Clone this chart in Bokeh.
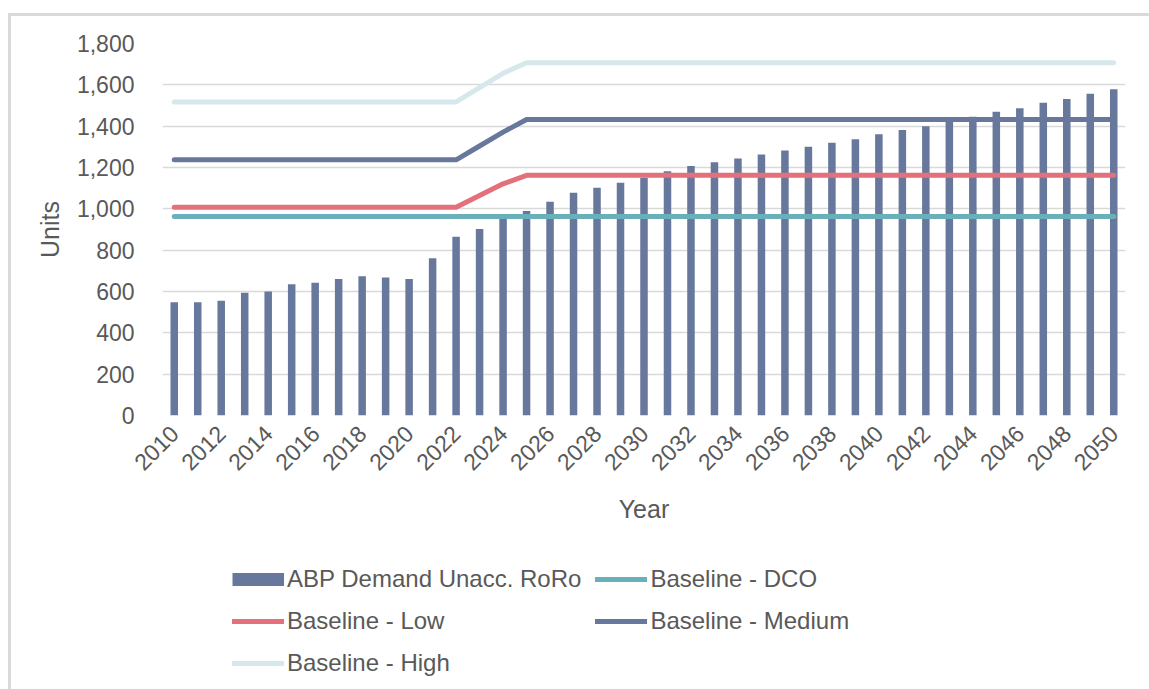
import math

from bokeh.embed import file_html
from bokeh.layouts import column
from bokeh.models import (ColumnDataSource, FixedTicker, InlineStyleSheet, Legend,
                          LegendItem, NumeralTickFormatter, Range1d)
from bokeh.plotting import figure
from bokeh.resources import INLINE

# ---- data -------------------------------------------------------------------
years = list(range(2010, 2051))

demand = [548, 548, 555, 594, 600, 635, 642, 661, 674, 668,
          661, 761, 865, 903, 955, 989, 1034, 1078, 1102, 1126,
          1150, 1182, 1207, 1226, 1244, 1263, 1282, 1300, 1320, 1337,
          1361, 1381, 1400, 1423, 1446, 1470, 1487, 1513, 1531, 1557, 1579]

baseline_dco = [963] * 41
baseline_low = [1008] * 13 + [1065, 1121] + [1162] * 26
baseline_medium = [1237] * 13 + [1304, 1371] + [1432] * 26
baseline_high = [1517] * 13 + [1586, 1656] + [1707] * 26

y_ticks = [0, 200, 400, 600, 800, 1000, 1200, 1400, 1600, 1800]
x_ticks = list(range(2010, 2051, 2))

series_names = ["ABP Demand Unacc. RoRo", "Baseline - DCO", "Baseline - Low",
                "Baseline - Medium", "Baseline - High"]

# ---- styling ----------------------------------------------------------------
FONT = "Liberation Sans"
TEXT = "#595959"
GRID = "#d9d9d9"
BAR = "#68789c"
DCO = "#6ab0ba"
LOW = "#e4707c"
MED = "#68789c"
HIGH = "#d6e8ec"

src = ColumnDataSource(dict(year=years, demand=demand, dco=baseline_dco,
                            low=baseline_low, medium=baseline_medium,
                            high=baseline_high))

# ---- main chart -------------------------------------------------------------
p = figure(width=1149, height=530, output_backend="svg", toolbar_location=None,
           x_range=Range1d(2009.5, 2050.5), y_range=Range1d(0, 1800),
           min_border_left=162, min_border_right=24,
           min_border_top=43, min_border_bottom=115)
p.outline_line_color = None
p.background_fill_color = "white"
p.border_fill_color = "white"

# grid
p.xgrid.visible = False
p.ygrid.ticker = FixedTicker(ticks=y_ticks)
p.ygrid.grid_line_color = GRID
p.ygrid.grid_line_width = 1.5

# y axis
p.yaxis.ticker = FixedTicker(ticks=y_ticks)
p.yaxis.formatter = NumeralTickFormatter(format="0,0")
p.yaxis.axis_label = "Units"
# x axis
p.xaxis.ticker = FixedTicker(ticks=x_ticks)
p.xaxis.major_label_orientation = math.pi / 4
p.xaxis.axis_label = "Year"

for ax in (p.xaxis, p.yaxis):
    ax.axis_line_color = None
    ax.major_tick_line_color = None
    ax.minor_tick_line_color = None
    ax.major_label_text_font = FONT
    ax.major_label_text_font_size = "23px"
    ax.major_label_text_color = TEXT
    ax.axis_label_text_font = FONT
    ax.axis_label_text_font_size = "25px"
    ax.axis_label_text_font_style = "normal"
    ax.axis_label_text_color = TEXT

p.yaxis.major_label_standoff = 22
p.yaxis.axis_label_standoff = 10
p.xaxis.major_label_standoff = 8
p.xaxis.axis_label_standoff = 14

# bars
p.vbar(x="year", top="demand", width=0.32, source=src,
       fill_color=BAR, line_color=None)

# scenario lines
line_kw = dict(source=src, line_width=5, line_cap="round", line_join="round")
p.line("year", "dco", line_color=DCO, **line_kw)
p.line("year", "low", line_color=LOW, **line_kw)
p.line("year", "medium", line_color=MED, **line_kw)
p.line("year", "high", line_color=HIGH, **line_kw)

# ---- legend strip below the chart ------------------------------------------
# (its frame is aligned with the chart frame above, so x offsets start at 162px)
lg = figure(width=1149, height=159, output_backend="svg", toolbar_location=None,
            x_range=Range1d(0, 1), y_range=Range1d(0, 1),
            x_axis_type=None, y_axis_type=None,
            min_border_left=0, min_border_right=0,
            min_border_top=0, min_border_bottom=0)
lg.outline_line_color = None
lg.grid.visible = False
lg.background_fill_color = "white"
lg.border_fill_color = "white"

nan = float("nan")
sw_kw = dict(x=[nan], y=[nan])
sw_bar = lg.line(line_color=BAR, line_width=13, line_cap="butt", **sw_kw)
sw_dco = lg.line(line_color=DCO, line_width=5, line_cap="round", **sw_kw)
sw_low = lg.line(line_color=LOW, line_width=5, line_cap="round", **sw_kw)
sw_med = lg.line(line_color=MED, line_width=5, line_cap="round", **sw_kw)
sw_high = lg.line(line_color=HIGH, line_width=5, line_cap="round", **sw_kw)

legend = Legend(
    items=[LegendItem(label=series_names[0], renderers=[sw_bar]),
           LegendItem(label=series_names[1], renderers=[sw_dco]),
           LegendItem(label=series_names[2], renderers=[sw_low]),
           LegendItem(label=series_names[3], renderers=[sw_med]),
           LegendItem(label=series_names[4], renderers=[sw_high])],
    orientation="horizontal", ncols=2,
    location=(70, 12),
    glyph_width=52, glyph_height=20, label_height=20, label_standoff=3,
    spacing=14, padding=0, margin=0,
    border_line_color=None, background_fill_alpha=0,
    label_text_font=FONT, label_text_font_size="24px", label_text_color=TEXT,
)
lg.add_layout(legend, "center")

layout = column(p, lg, spacing=0)

# thin grey frame around the whole chart area (open to the right and bottom)
layout.stylesheets = [InlineStyleSheet(css="""
:host { position: relative; }
:host::after {
  content: "";
  position: absolute;
  left: 8px; top: 13px; right: 0; bottom: 0;
  border-left: 3px solid #d9d9d9;
  border-top: 3px solid #d9d9d9;
  pointer-events: none;
  z-index: 5;
}
""")]

open("out.html", "w").write(file_html(layout, INLINE))
